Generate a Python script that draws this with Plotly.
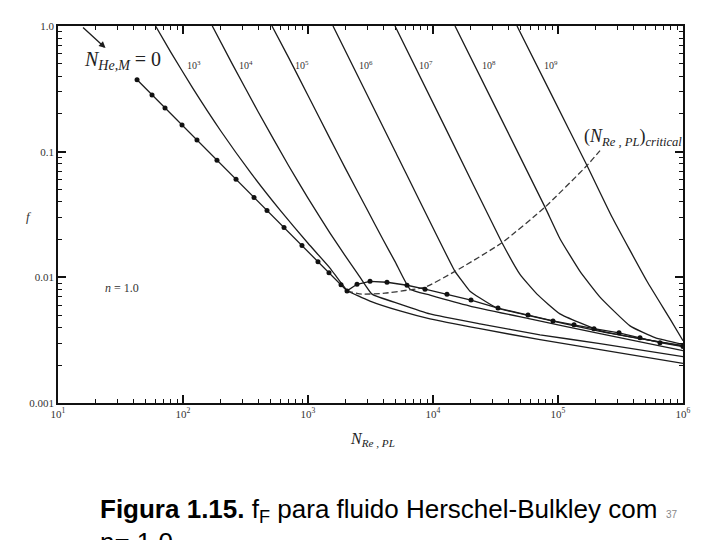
import math
import plotly.graph_objects as go

# ---------------- data ----------------
# N_He,M = 0 curve (with markers)
re_he0 = [42.9, 56.5, 71.8, 98.2, 129.4, 187, 265.5, 370, 470, 643, 895, 1202, 1472, 1837, 2051,
          2466, 3133, 4285, 6194, 8630, 12940, 20140, 33110, 57540, 91200, 134300, 194100,
          307600, 452900, 654600, 1000000]
f_he0 = [0.373, 0.283, 0.223, 0.163, 0.124, 0.0856, 0.0603, 0.0432, 0.0340, 0.0249, 0.0179, 0.0133,
         0.01087, 0.00871, 0.0078, 0.00881, 0.00930, 0.00914, 0.00865, 0.00805, 0.00735, 0.00659,
         0.00570, 0.00502, 0.00450, 0.00419, 0.00390, 0.00362, 0.00331, 0.00302, 0.00281]

re_he3 = [60.3, 80, 120, 200, 350, 600, 1000, 1500, 2051, 3133, 5445, 9462, 23770, 71780, 216800, 1000000]
f_he3 = [1.0, 0.617, 0.3185, 0.1467, 0.0675, 0.0341, 0.01867, 0.01185, 0.0079, 0.00647, 0.00540,
         0.00467, 0.00390, 0.00319, 0.00266, 0.00207]

re_he4 = [171.5, 250, 400, 700, 1000, 1500, 2000, 2500, 3251, 5445, 9462, 23770, 71780, 216800, 1000000]
f_he4 = [1.0, 0.4907, 0.2067, 0.0773, 0.0427, 0.02252, 0.01467, 0.01067, 0.00735, 0.00613, 0.00512,
         0.00427, 0.00349, 0.00297, 0.00234]

re_he5 = [515, 700, 1000, 1500, 2000, 3000, 4000, 5000, 6550, 9462, 19770, 59700, 216800, 1000000]
f_he5 = [1.0, 0.56, 0.28, 0.127, 0.073, 0.034, 0.0198, 0.0132, 0.00805, 0.00722, 0.00591, 0.00467,
         0.00356, 0.00261]

re_he6 = [1585, 5000, 15000, 17380, 19770, 23770, 32510, 59700, 216800, 1000000]
f_he6 = [1.0, 0.100, 0.01115, 0.00914, 0.00776, 0.00684, 0.00570, 0.00493, 0.00372, 0.00284]

re_he7 = [4966, 12590, 35650, 49660, 67920, 103700, 216800, 452900, 1000000]
f_he7 = [1.0, 0.154, 0.01887, 0.01056, 0.00735, 0.00512, 0.00376, 0.00325, 0.00286]

re_he8 = [15000, 31620, 78700, 103700, 150000, 216800, 376700, 597000, 1000000]
f_he8 = [1.0, 0.225, 0.0362, 0.0203, 0.01115, 0.00696, 0.00411, 0.00331, 0.00292]

re_he9 = [46990, 89100, 170600, 270400, 515200, 787000, 1000000]
f_he9 = [1.0, 0.282, 0.0776, 0.0302, 0.0093, 0.00467, 0.00313]

# critical Reynolds number locus (dashed)
re_crit = [2051, 2704, 4130, 6194, 8630, 15000, 35650, 78700, 170600, 216800]
f_crit = [0.00776, 0.00735, 0.00748, 0.00790, 0.00834, 0.01115, 0.01887, 0.0362, 0.0776, 0.1019]

he_labels = ["10<sup>3</sup>", "10<sup>4</sup>", "10<sup>5</sup>", "10<sup>6</sup>",
             "10<sup>7</sup>", "10<sup>8</sup>", "10<sup>9</sup>"]
he_label_re = [122, 319, 895, 2911, 8790, 28050, 87900]
he_label_f = 0.49

x_tick_vals = [1e1, 1e2, 1e3, 1e4, 1e5, 1e6]
x_tick_text = ["10<sup>1</sup>", "10<sup>2</sup>", "10<sup>3</sup>", "10<sup>4</sup>",
               "10<sup>5</sup>", "10<sup>6</sup>"]
y_tick_vals = [0.001, 0.01, 0.1, 1.0]
y_tick_text = ["0.001", "0.01", "0.1", "1.0"]

# ---------------- figure ----------------
LINE = "#1c1c1c"
SERIF = "Liberation Serif, Times New Roman, serif"
SANS = "Liberation Sans, Arial, sans-serif"

fig = go.Figure()

curves = [(re_he3, f_he3), (re_he4, f_he4), (re_he5, f_he5), (re_he6, f_he6),
          (re_he7, f_he7), (re_he8, f_he8), (re_he9, f_he9)]
for rx, fy in curves:
    fig.add_trace(go.Scatter(x=rx, y=fy, mode="lines",
                             line=dict(color=LINE, width=1.3, shape="spline", smoothing=0.4),
                             showlegend=False, hoverinfo="skip"))

fig.add_trace(go.Scatter(x=re_crit, y=f_crit, mode="lines",
                         line=dict(color="#3a3a3a", width=1.3, dash="6px,3px", shape="spline", smoothing=0.5),
                         showlegend=False, hoverinfo="skip"))

fig.add_trace(go.Scatter(x=re_he0, y=f_he0, mode="lines+markers",
                         line=dict(color=LINE, width=1.3),
                         marker=dict(color="#111", size=5),
                         showlegend=False, hoverinfo="skip"))

minor_x = [m * 10 ** k for k in range(1, 6) for m in range(2, 10)]
minor_y = [m * 10 ** k for k in range(-3, 0) for m in range(2, 10)]

fig.update_xaxes(type="log", range=[1, 6], tickvals=x_tick_vals, ticktext=x_tick_text,
                 ticks="inside", ticklen=8, tickwidth=1.6, tickcolor="#111",
                 showline=True, linecolor="#111", linewidth=1.8, mirror="allticks",
                 showgrid=False, zeroline=False,
                 tickfont=dict(family=SERIF, size=11, color="#333"),
                 minor=dict(tickvals=minor_x, ticks="inside", ticklen=4, tickwidth=1.4,
                            tickcolor="#111", showgrid=False))
fig.update_yaxes(type="log", range=[-3, 0], tickvals=y_tick_vals, ticktext=y_tick_text,
                 ticks="inside", ticklen=8, tickwidth=1.6, tickcolor="#111",
                 showline=True, linecolor="#111", linewidth=1.8, mirror="allticks",
                 showgrid=False, zeroline=False,
                 tickfont=dict(family=SERIF, size=11, color="#333"),
                 minor=dict(tickvals=minor_y, ticks="inside", ticklen=4, tickwidth=1.4,
                            tickcolor="#111", showgrid=False))


def px(xp, yp):
    """page pixel of the reference -> paper coordinates of the plot area"""
    return (xp - 58) / 625, (403 - yp) / 381


ann = []
for lab, rx in zip(he_labels, he_label_re):
    ann.append(dict(x=math.log10(rx), y=math.log10(he_label_f), xref="x", yref="y", text=lab,
                    xanchor="center", yanchor="middle",
                    showarrow=False, font=dict(family=SERIF, size=10, color="#333")))
ann.append(dict(x=math.log10(24), y=math.log10(0.667), xref="x", yref="y", text="",
                showarrow=True, arrowhead=2, arrowsize=1, arrowwidth=1.3, arrowcolor=LINE,
                ax=-24, ay=-22))


def label(xp, yp, text, size, family=SERIF, color="#222", xanchor="center"):
    x, y = px(xp, yp)
    ann.append(dict(x=x, y=y, xref="paper", yref="paper", text=text, showarrow=False,
                    xanchor=xanchor, yanchor="middle", font=dict(family=family, size=size, color=color)))


label(122, 57, "<i>N</i><sub><i>He,M</i></sub> = 0", 20)
label(633, 135, "(<i>N</i><sub><i>Re , PL</i></sub>)<sub><i>critical</i></sub>", 18)
label(122, 287, "<i>n</i> = 1.0", 12, color="#333")
label(29, 215, "<i>f</i>", 13, color="#333")
label(372, 440, "<i>N</i><sub><i>Re , PL</i></sub>", 16)
label(98, 512, "<b>Figura 1.15.</b> f<sub>F</sub> para fluido Herschel-Bulkley com", 26,
      family=SANS, color="#000", xanchor="left")
label(98, 543, "n= 1.0", 26, family=SANS, color="#000", xanchor="left")
label(672, 516, "37", 10, family=SANS, color="#888")

# the page is drawn with an 8px body margin, so the figure is 8px smaller
fig.update_layout(width=712, height=532, autosize=False,
                  margin=dict(l=50, r=37, t=14, b=137),
                  paper_bgcolor="white", plot_bgcolor="white",
                  annotations=ann, showlegend=False)

fig.write_html("out.html")
